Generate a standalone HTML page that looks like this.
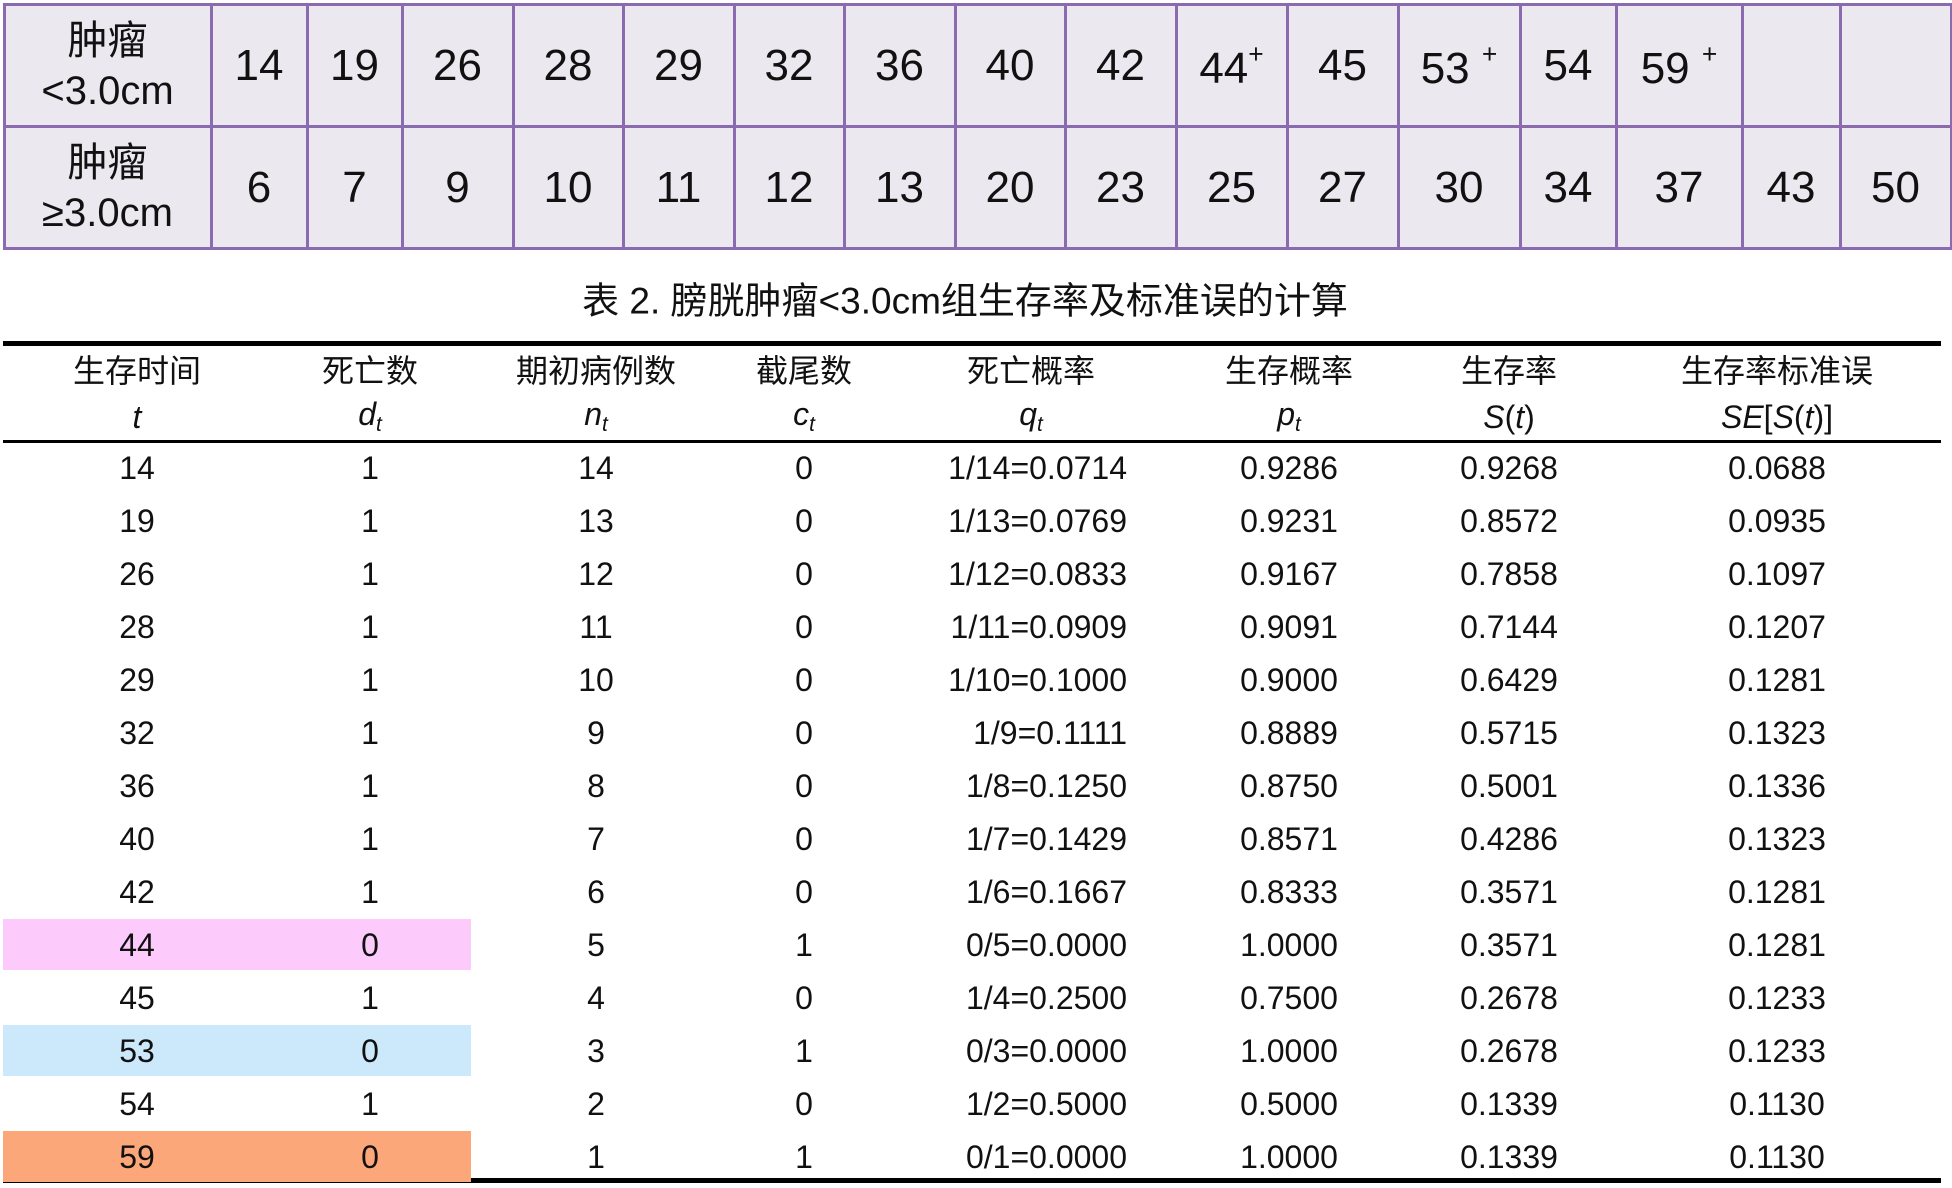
<!DOCTYPE html>
<html><head><meta charset="utf-8">
<style>
body{margin:0;width:1952px;height:1188px;background:#fff;position:relative;overflow:hidden;font-family:"Liberation Sans","Noto Sans CJK SC",sans-serif;color:#111}
.t{position:absolute;white-space:nowrap;transform:translate(-50%,-50%);line-height:1}
.c{position:absolute;background:#ece8ef;border:3px solid #8a6bb0;box-sizing:border-box}
.rule{position:absolute;left:3px;width:1938px;background:#000}
.hl{position:absolute;left:3px;width:468px;height:51px}
i{font-style:italic}
sub{font-size:0.65em;vertical-align:-0.3em}
.sp{font-size:0.6em;vertical-align:0.75em}
</style></head><body>
<div id="topTbl"></div>
<div class="t" style="left:965px;top:301px;font-size:37px">表 2. 膀胱肿瘤&lt;3.0cm组生存率及标准误的计算</div>
<div class="rule" style="top:341px;height:5px"></div>
<div class="rule" style="top:440px;height:3px"></div>
<div class="rule" style="top:1178px;height:5px"></div>
<div id="hdr"></div>
<div id="body"></div>
<script>
var times=[14,19,26,28,29,32,36,40,42,44,45,53,54,59];
var deaths=[1,1,1,1,1,1,1,1,1,0,1,0,1,0];
var atRisk=[14,13,12,11,10,9,8,7,6,5,4,3,2,1];
var censored=[0,0,0,0,0,0,0,0,0,1,0,1,0,1];
var qVals=["1/14=0.0714","1/13=0.0769","1/12=0.0833","1/11=0.0909","1/10=0.1000","1/9=0.1111","1/8=0.1250","1/7=0.1429","1/6=0.1667","0/5=0.0000","1/4=0.2500","0/3=0.0000","1/2=0.5000","0/1=0.0000"];
var pVals=["0.9286","0.9231","0.9167","0.9091","0.9000","0.8889","0.8750","0.8571","0.8333","1.0000","0.7500","1.0000","0.5000","1.0000"];
var sVals=["0.9268","0.8572","0.7858","0.7144","0.6429","0.5715","0.5001","0.4286","0.3571","0.3571","0.2678","0.2678","0.1339","0.1339"];
var seVals=["0.0688","0.0935","0.1097","0.1207","0.1281","0.1323","0.1336","0.1323","0.1281","0.1281","0.1233","0.1233","0.1130","0.1130"];
var row1=["14","19","26","28","29","32","36","40","42","44<span class='sp'>+</span>","45","53 <span class='sp'>+</span>","54","59 <span class='sp'>+</span>","",""];
var row2=["6","7","9","10","11","12","13","20","23","25","27","30","34","37","43","50"];
(function(){
var xs=[3,210,306,401,512,622,733,843,954,1064,1175,1286,1397,1519,1615,1741,1839,1950];
var topTbl=document.getElementById('topTbl');
var ys=[3,125,247];
for(var r=0;r<2;r++){
 for(var c=0;c<17;c++){
  var d=document.createElement('div');d.className='c';
  
  
  d.style.left=xs[c]+'px';d.style.top=ys[r]+'px';d.style.width=(xs[c+1]-xs[c]+3)+'px';d.style.height=(ys[r+1]-ys[r]+3)+'px';
  topTbl.appendChild(d);
  var t=document.createElement('div');t.className='t';
  
  
  t.style.left=((xs[c]+xs[c+1])/2+1)+'px';t.style.top=((ys[r]+ys[r+1])/2+2)+'px';t.style.fontSize='44px';
  if(c==0){t.style.fontSize='40px';t.style.lineHeight='50px';t.style.textAlign='center';t.innerHTML=r==0?'肿瘤<br>&lt;3.0cm':'肿瘤<br>≥3.0cm';}
  else t.innerHTML=(r==0?row1:row2)[c-1];
  topTbl.appendChild(t);
 }
}
var cx=[137,370,596,804,1031,1289,1509,1777];
var h1=["生存时间","死亡数","期初病例数","截尾数","死亡概率","生存概率","生存率","生存率标准误"];
var h2=["<i>t</i>","<i>d<sub>t</sub></i>","<i>n<sub>t</sub></i>","<i>c<sub>t</sub></i>","<i>q<sub>t</sub></i>","<i>p<sub>t</sub></i>","<i>S</i>(<i>t</i>)","<i>SE</i>[<i>S</i>(<i>t</i>)]"];
var hdr=document.getElementById('hdr');
for(var i=0;i<8;i++){
 var pairs=[[h1,371],[h2,417]];
 for(var k=0;k<2;k++){
  var t=document.createElement('div');t.className='t';
  
  
  t.style.left=cx[i]+'px';t.style.top=pairs[k][1]+'px';t.style.fontSize='32px';t.innerHTML=pairs[k][0][i];hdr.appendChild(t);
 }
}
var hlc={9:"#fccbfc",11:"#cce9fb",13:"#fca77a"};
var body=document.getElementById('body');
for(var r=0;r<times.length;r++){
 var y=467+r*53;
 if(hlc[r]){var h=document.createElement('div');h.className='hl';
  
  
  h.style.top=(y-25)+'px';h.style.background=hlc[r];body.appendChild(h);}
 var vals=[times[r],deaths[r],atRisk[r],censored[r],qVals[r],pVals[r],sVals[r],seVals[r]];
 for(var c=0;c<8;c++){
  var t=document.createElement('div');t.className='t';
  
  
  t.style.top=(y+1)+'px';t.style.fontSize='32px';t.textContent=vals[c];
  if(c==4){t.style.left='1127px';t.style.transform='translate(-100%,-50%)';}
  else t.style.left=cx[c]+'px';
  body.appendChild(t);
 }
}
})();
</script>
</body></html>
